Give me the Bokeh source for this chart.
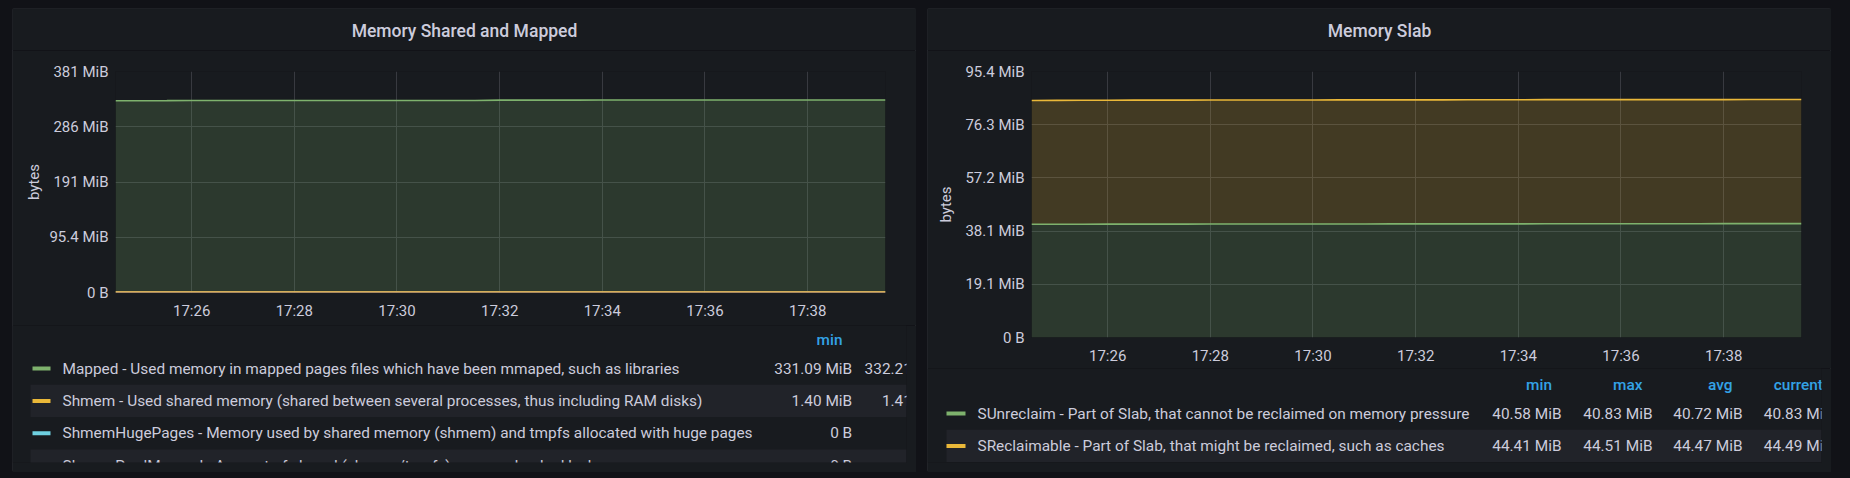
import pandas as pd
from bokeh.plotting import figure
from bokeh.layouts import row, column
from bokeh.models import (Range1d, FixedTicker, DatetimeTickFormatter, Spacer,
                          GlobalInlineStyleSheet)
from bokeh.core.properties import value
from bokeh.embed import file_html
from bokeh.resources import INLINE

# ---------------- data ----------------
DAY = "2021-09-01 "
times = pd.date_range(DAY + "17:24:31", periods=31, freq="30s")

x_tick_labels = ["17:26", "17:28", "17:30", "17:32", "17:34", "17:36", "17:38"]

left_y_ticks = [0, 100000000, 200000000, 300000000, 400000000]
left_y_tick_labels = ["0 B", "95.4 MiB", "191 MiB", "286 MiB", "381 MiB"]
right_y_ticks = [0, 20000000, 40000000, 60000000, 80000000, 100000000]
right_y_tick_labels = ["0 B", "19.1 MiB", "38.1 MiB", "57.2 MiB", "76.3 MiB", "95.4 MiB"]

mapped_mib = [331.09, 331.09, 331.12, 331.35, 331.38, 331.40, 331.41, 331.41, 331.43, 331.43,
              331.44, 331.45, 331.45, 331.46, 331.48, 332.05, 332.10, 332.12, 332.13, 332.15,
              332.15, 332.16, 332.18, 332.18, 332.19, 332.19, 332.20, 332.20, 332.21, 332.21, 332.21]
shmem_mib = [1.40, 1.40, 1.40, 1.40, 1.40, 1.40, 1.40, 1.40, 1.40, 1.40,
             1.40, 1.40, 1.40, 1.40, 1.41, 1.41, 1.41, 1.41, 1.41, 1.41,
             1.41, 1.41, 1.41, 1.41, 1.41, 1.41, 1.41, 1.41, 1.41, 1.41, 1.41]
shmem_huge_mib = [0, 0, 0, 0, 0, 0, 0, 0, 0, 0, 0, 0, 0, 0, 0, 0,
                  0, 0, 0, 0, 0, 0, 0, 0, 0, 0, 0, 0, 0, 0, 0]
shmem_pmd_mib = [0, 0, 0, 0, 0, 0, 0, 0, 0, 0, 0, 0, 0, 0, 0, 0,
                 0, 0, 0, 0, 0, 0, 0, 0, 0, 0, 0, 0, 0, 0, 0]

sunreclaim_mib = [40.58, 40.60, 40.62, 40.63, 40.64, 40.65, 40.66, 40.67, 40.68, 40.69,
                  40.70, 40.70, 40.71, 40.71, 40.72, 40.72, 40.73, 40.74, 40.74, 40.75,
                  40.76, 40.76, 40.77, 40.78, 40.78, 40.79, 40.80, 40.81, 40.82, 40.82, 40.83]
sreclaimable_mib = [44.41, 44.42, 44.43, 44.44, 44.45, 44.45, 44.46, 44.46, 44.46, 44.47,
                    44.47, 44.47, 44.47, 44.48, 44.48, 44.48, 44.48, 44.49, 44.49, 44.50,
                    44.51, 44.51, 44.50, 44.50, 44.49, 44.49, 44.49, 44.49, 44.49, 44.49, 44.49]

left_title = "Memory Shared and Mapped"
right_title = "Memory Slab"

left_series = [
    "Mapped - Used memory in mapped pages files which have been mmaped, such as libraries",
    "Shmem - Used shared memory (shared between several processes, thus including RAM disks)",
    "ShmemHugePages - Memory used by shared memory (shmem) and tmpfs allocated with huge pages",
    "ShmemPmdMapped - Amount of shared (shmem/tmpfs) memory backed by huge pages",
]
left_headers = ["min"]
left_min = ["331.09 MiB", "1.40 MiB", "0 B", "0 B"]
left_max = ["332.21 MiB", "1.41 MiB", "0 B", "0 B"]

right_series = [
    "SUnreclaim - Part of Slab, that cannot be reclaimed on memory pressure",
    "SReclaimable - Part of Slab, that might be reclaimed, such as caches",
]
right_headers = ["min", "max", "avg", "current"]
right_min = ["40.58 MiB", "44.41 MiB"]
right_max = ["40.83 MiB", "44.51 MiB"]
right_avg = ["40.72 MiB", "44.47 MiB"]
right_cur = ["40.83 MiB", "44.49 MiB"]

# ---------------- style ----------------
PANEL = "#181b1f"
GRID = "#383a40"
TEXT = "#ccccdc"
HEAD = "#33a2e5"
ROWBG = "#212329"
GREEN, YELLOW, BLUE, ORANGE = "#7EB26D", "#EAB839", "#6ED0E0", "#EF843C"
FONT = "Roboto"
FONT_MED = "Roboto Medium"
LEG_SIZE = "15.4px"
MIB = 1048576.0


def b(lst):
    return [v * MIB for v in lst]


def tick_ms(lbl):
    t = pd.Timestamp(DAY + lbl)
    return (t - pd.Timestamp("1970-01-01")).total_seconds() * 1000.0


def text_fig(w, h, x0, y0, clip_r=0, clip_b=0):
    f = figure(width=w, height=h, x_range=Range1d(x0, x0 + w - clip_r),
               y_range=Range1d(y0 + h - clip_b, y0), x_axis_type=None, y_axis_type=None,
               output_backend="svg", toolbar_location=None, title=None,
               min_border_left=0, min_border_top=0, min_border_right=clip_r,
               min_border_bottom=clip_b)
    f.outline_line_color = None
    f.background_fill_color = PANEL
    f.border_fill_color = PANEL
    return f


def chart_fig(w, h, mb_l, mb_r, mb_t, mb_b, yticks, ylabels, ymax, lab_standoff):
    p = figure(width=w, height=h, x_axis_type="datetime",
               x_range=Range1d(times[0], times[-1]), y_range=Range1d(0, ymax),
               output_backend="svg", toolbar_location=None, title=None,
               min_border_left=mb_l, min_border_right=mb_r,
               min_border_top=mb_t, min_border_bottom=mb_b)
    p.outline_line_color = None
    p.background_fill_color = PANEL
    p.border_fill_color = PANEL
    xt = FixedTicker(ticks=[tick_ms(s) for s in x_tick_labels])
    p.xaxis.ticker = xt
    p.xgrid.ticker = xt
    p.xaxis.formatter = DatetimeTickFormatter(minsec="%H:%M", minutes="%H:%M",
                                              hourmin="%H:%M", hours="%H:%M",
                                              seconds="%H:%M")
    yt = FixedTicker(ticks=yticks)
    p.yaxis.ticker = yt
    p.ygrid.ticker = yt
    p.yaxis.major_label_overrides = {t: l for t, l in zip(yticks, ylabels)}
    for ax in p.axis:
        ax.axis_line_color = None
        ax.major_tick_line_color = None
        ax.minor_tick_line_color = None
        ax.major_tick_out = 0
        ax.major_tick_in = 0
        ax.major_label_text_font = FONT
        ax.major_label_text_font_size = "15px"
        ax.major_label_text_color = TEXT
    p.xaxis.major_label_standoff = 9
    p.yaxis.major_label_standoff = 7
    p.yaxis.axis_label = "bytes"
    p.yaxis.axis_label_text_font = FONT
    p.yaxis.axis_label_text_font_size = "15px"
    p.yaxis.axis_label_text_font_style = "normal"
    p.yaxis.axis_label_text_color = TEXT
    p.yaxis.axis_label_standoff = lab_standoff
    p.grid.grid_line_color = GRID
    p.grid.grid_line_width = 1
    return p


def txt(f, xs, ys, texts, color=TEXT, align="left", size=LEG_SIZE, font=FONT):
    f.text(x=xs, y=ys, text=texts, text_font=value(font), text_font_size=size,
           text_color=color, text_align=align, text_baseline="middle")


# ---------------- left panel ----------------
lt = text_fig(904, 42, 12, 8)
txt(lt, [464], [30], [left_title], align="center", size="17.5px", font=FONT_MED)

lc = chart_fig(904, 275, 103, 31, 21, 33, left_y_ticks, left_y_tick_labels, 400000000, 3)
lc.varea(x=times, y1=0, y2=b(mapped_mib), fill_color=GREEN, fill_alpha=0.2)
lc.varea(x=times, y1=0, y2=b(shmem_mib), fill_color=YELLOW, fill_alpha=0.2)
lc.line(times, b(mapped_mib), line_color=GREEN, line_width=1.6)
lc.line(times, b(shmem_mib), line_color=YELLOW, line_width=1.6)
lc.line(times, b(shmem_huge_mib), line_color=BLUE, line_width=1.6)
lc.line(times, b(shmem_pmd_mib), line_color=ORANGE, line_width=1.6)

ll = text_fig(904, 147, 12, 325, clip_r=10, clip_b=10)
ROW_H = 32.4
ly = [368 + ROW_H * i for i in range(len(left_series))]
odd = [i for i in range(len(left_series)) if i % 2 == 1]
ll.quad(left=30, right=906, top=[ly[i] - ROW_H / 2 for i in odd],
        bottom=[ly[i] + ROW_H / 2 for i in odd], fill_color=ROWBG, line_color=None)
ll.rect(x=41, y=ly, width=18, height=4, fill_color=[GREEN, YELLOW, BLUE, ORANGE],
        line_color=None)
txt(ll, [62] * len(ly), ly, left_series)
txt(ll, [851.7] * len(ly), ly, left_min, align="right")
txt(ll, [942] * len(ly), ly, left_max, align="right")
txt(ll, [842], [339], left_headers, color=HEAD, align="right", font=FONT_MED)

# ---------------- right panel ----------------
rt = text_fig(904, 42, 927, 8)
txt(rt, [1379], [30], [right_title], align="center", size="17.5px", font=FONT_MED)

rc = chart_fig(904, 318, 104, 30, 21, 31, right_y_ticks, right_y_tick_labels, 100000000, 7)
total = [a + c for a, c in zip(sunreclaim_mib, sreclaimable_mib)]
rc.varea(x=times, y1=0, y2=b(sunreclaim_mib), fill_color=GREEN, fill_alpha=0.2)
rc.varea(x=times, y1=b(sunreclaim_mib), y2=b(total), fill_color=YELLOW, fill_alpha=0.2)
rc.line(times, b(sunreclaim_mib), line_color=GREEN, line_width=1.6)
rc.line(times, b(total), line_color=YELLOW, line_width=1.6)

rl = text_fig(904, 104, 927, 368, clip_r=10, clip_b=10)
ry = [413 + 32.4 * i for i in range(len(right_series))]
rl.quad(left=946, right=1821, top=[ry[1] - 16.2], bottom=[ry[1] + 16.2],
        fill_color=ROWBG, line_color=None)
rl.rect(x=955.5, y=ry, width=19, height=4, fill_color=[GREEN, YELLOW], line_color=None)
txt(rl, [977] * 2, ry, right_series)
for xr, vals in zip([1561, 1652, 1742, 1832.5], [right_min, right_max, right_avg, right_cur]):
    txt(rl, [xr] * 2, ry, vals, align="right")
txt(rl, [1551.5, 1642, 1732, 1822.5], [384] * 4, right_headers, color=HEAD,
    align="right", font=FONT_MED)

# ---------------- layout ----------------
OUTLINE = {"outline": "1px solid #25272c", "outline-offset": "-1px", "border-radius": "2px"}
left_col = column(row(lt), row(lc), row(ll), spacing=0, styles=OUTLINE)
right_col = column(row(rt), row(rc), row(rl), spacing=0, styles=OUTLINE)
panels = row(Spacer(width=12, height=464), left_col, Spacer(width=11, height=464), right_col,
             spacing=0)
p = column(Spacer(width=1831, height=8), panels, spacing=0)
p.stylesheets = [GlobalInlineStyleSheet(css="html, body { background-color: #111217; }")]

open("out.html", "w").write(file_html(p, INLINE))
